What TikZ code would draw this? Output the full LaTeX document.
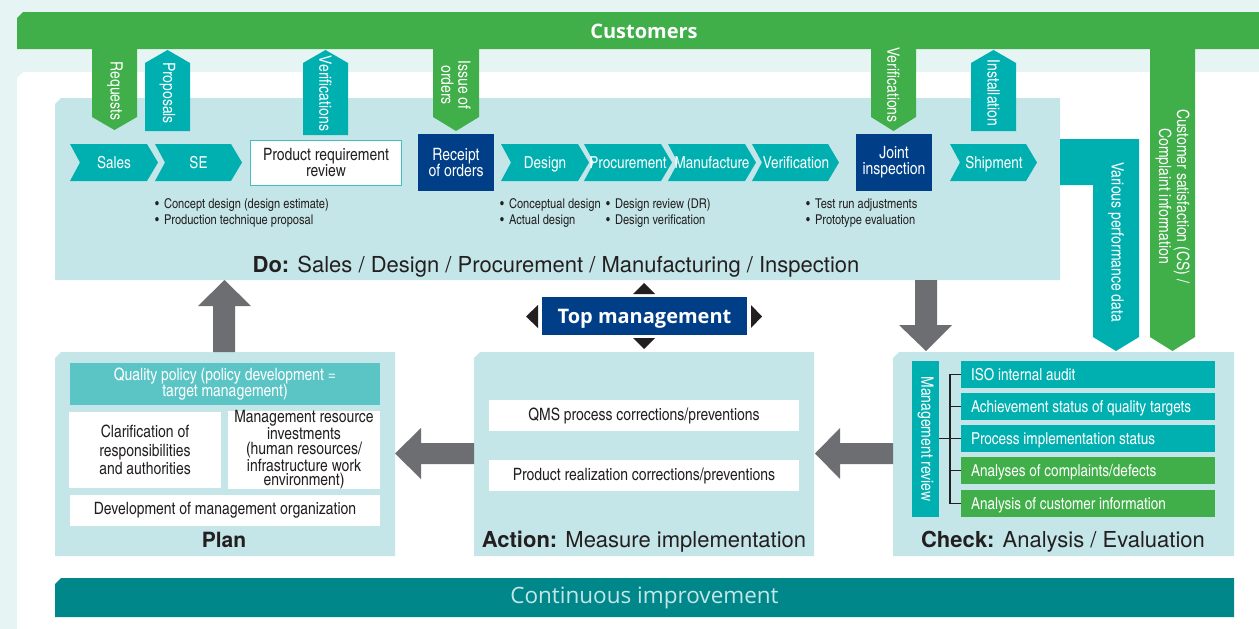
\documentclass[tikz,border=0pt]{standalone}
\usepackage{fontspec}
\setmainfont{TeX Gyre Heros}
\newfontfamily\cnd{TeX Gyre Heros Cn}
\newfontfamily\hum{Open Sans}
\definecolor{mint}{HTML}{E6F4F4}
\definecolor{panel}{HTML}{C5E6E8}
\definecolor{qteal}{HTML}{00B0B1}
\definecolor{grn}{HTML}{40AE49}
\definecolor{navy}{HTML}{003F87}
\definecolor{arrowgray}{HTML}{6D6E71}
\definecolor{deepteal}{HTML}{00878A}
\definecolor{softteal}{HTML}{5BC5C6}
\definecolor{ink}{HTML}{231F20}
\definecolor{prrline}{HTML}{3FBFC0}

% a chevron step: left x, width
\newcommand\chevron[2]{%
  \fill[qteal] (#1,144) -- (#1+#2-11,144) -- (#1+#2,162.5) -- (#1+#2-11,181)
    -- (#1,181) -- (#1+10,162.5) -- cycle;}
% downward flag arrow: x1, x2, top, shoulder, tip, colour
\newcommand\downflag[6]{%
  \fill[#6] (#1,#3) -- (#2,#3) -- (#2,#4) -- ({(#1+#2)/2},#5) -- (#1,#4) -- cycle;}
% upward flag arrow: x1, x2, bottom, shoulder, tip, colour
\newcommand\upflag[6]{%
  \fill[#6] (#1,#3) -- (#1,#4) -- ({(#1+#2)/2},#5) -- (#2,#4) -- (#2,#3) -- cycle;}
\newcommand\bul{\textbullet\hspace{5pt}}

\begin{document}
\begin{tikzpicture}[x=1pt,y=-1pt,
  lbl/.style={font=\cnd\fontsize{17}{17}\selectfont, text=white, rotate=-90, inner sep=0, align=center},
  chevtext/.style={font=\cnd\fontsize{16.5}{16.5}\selectfont, text=white, inner sep=0, anchor=base},
  bullet/.style={font=\cnd\fontsize{13.5}{13.5}\selectfont, text=ink, anchor=base west, inner sep=0},
  boxtext/.style={inner sep=0, align=center, text=ink, font=\cnd\fontsize{17}{18.5}\selectfont},
  navybox/.style={fill=navy, text=white, inner sep=0, align=center,
    minimum width=76pt, minimum height=57pt, font=\cnd\fontsize{17}{16}\selectfont},
  item/.style={inner sep=0, minimum width=254pt, minimum height=27pt},
  itemtext/.style={anchor=base west, inner sep=0, text=white, font=\cnd\fontsize{16.5}{16.5}\selectfont},
  title/.style={font=\fontsize{22}{22}\selectfont, text=ink, anchor=base, inner sep=0},
  brk/.style={draw=ink, line width=1.4pt},
  tri/.style={fill=ink}]
\useasboundingbox (0,0) rectangle (1259,629);

% background layers
\fill[mint] (0,0) rectangle (1259,629);
\fill[white] (17,78) -- (23,72) -- (1259,72) -- (1259,629) -- (17,629) -- cycle;
\fill[grn] (17,18) -- (23,12) -- (1259,12) -- (1259,49) -- (17,49) -- cycle;
\node[font=\hum\bfseries\fontsize{20}{20}\selectfont, text=white, inner sep=0] (cust) at (644,31) {Customers};

% the four panels
\fill[panel] (55,104) -- (61,98) -- (1060,98) -- (1060,280) -- (55,280) -- cycle;
\fill[panel] (55,358) -- (61,352) -- (395,352) -- (395,556) -- (55,556) -- cycle;
\fill[panel] (474,358) -- (480,352) -- (814,352) -- (814,556) -- (474,556) -- cycle;
\fill[panel] (893,358) -- (899,352) -- (1234,352) -- (1234,556) -- (893,556) -- cycle;

% continuous improvement bar
\fill[deepteal] (55,584) -- (61,578) -- (1234,578) -- (1234,617) -- (55,617) -- cycle;
\node[font=\hum\fontsize{22.5}{22.5}\selectfont, text=panel, inner sep=0] (ci) at (644.5,598) {Continuous improvement};

% flags between customers and the Do row
\downflag{92}{137}{48}{117}{130}{grn}
\node[lbl] (req) at (115,91) {Requests};
\upflag{145}{190}{131}{63}{50}{qteal}
\node[lbl] (prop) at (167.5,93) {Proposals};
\upflag{303}{348}{135}{63}{50}{qteal}
\node[lbl] (ver1) at (325.5,93.5) {Verifications};
\downflag{433}{479}{48}{117}{131}{grn}
\node[lbl] (iss) at (456,85) {Issue of\\orders};
\downflag{871}{916}{48}{117}{131}{grn}
\node[lbl] (ver2) at (893.5,85) {Verifications};
\upflag{971}{1016}{131}{63}{50}{qteal}
\node[lbl] (inst) at (993.5,93) {Installation};
\downflag{1150}{1195}{48}{337}{351}{grn}
\node[lbl, font=\cnd\fontsize{17}{18}\selectfont] (cs) at (1172.5,196) {Customer satisfaction (CS) /\\Complaint information};
\fill[qteal] (1060,139) -- (1139,139) -- (1139,337) -- (1116,351) -- (1093,337)
  -- (1093,185) -- (1060,185) -- cycle;
\node[lbl] (perf) at (1116,242) {Various performance data};

% process row
\chevron{70}{88}
\node[chevtext] (sales) at (114,168.5) {Sales};
\chevron{155}{87}
\node[chevtext] (se) at (198.5,168.5) {SE};
\node[boxtext, fill=white, draw=prrline, line width=1pt, minimum width=151pt,
  minimum height=45pt, font=\cnd\fontsize{17}{16}\selectfont] (prr) at (326,163)
  {Product requirement\\review};
\node[navybox] (rec) at (456,162.5) {Receipt\\of orders};
\chevron{501}{88}
\node[chevtext] (des) at (545,168.5) {Design};
\chevron{584}{88}
\node[chevtext] (proc) at (628,168.5) {Procurement};
\chevron{668}{88}
\node[chevtext] (manu) at (712,168.5) {Manufacture};
\chevron{752}{87}
\node[chevtext] (verif) at (796,168.5) {Verification};
\node[navybox] (joint) at (894,162.5) {Joint\\inspection};
\chevron{950}{87}
\node[chevtext] (ship) at (994,168.5) {Shipment};

% bullet notes under the row
\node[bullet] (n1) at (155,208.5) {\bul Concept design (design estimate)};
\node[bullet] (n2) at (155,224.5) {\bul Production technique proposal};
\node[bullet] (n3) at (500,208.5) {\bul Conceptual design};
\node[bullet] (n4) at (500,224.5) {\bul Actual design};
\node[bullet] (n5) at (606,208.5) {\bul Design review (DR)};
\node[bullet] (n6) at (606,224.5) {\bul Design verification};
\node[bullet] (n7) at (806,208.5) {\bul Test run adjustments};
\node[bullet] (n8) at (806,224.5) {\bul Prototype evaluation};

\node[title] (dot) at (556,272) {\textbf{Do:} Sales / Design / Procurement / Manufacturing / Inspection};

% top management with its four pointers
\node[fill=navy, inner sep=0, minimum width=205pt, minimum height=38pt] (top) at (644.5,316) {};
\node[text=white, inner sep=0, font=\hum\bfseries\fontsize{20}{20}\selectfont, anchor=base]
  (topt) at (644.5,323.5) {Top management};
\fill[tri] (633,294) -- (644,283) -- (655,294) -- cycle;
\fill[tri] (633,338) -- (655,338) -- (644,349) -- cycle;
\fill[tri] (538,305) -- (538,328) -- (526,316.5) -- cycle;
\fill[tri] (751,305) -- (751,328) -- (762,316.5) -- cycle;

% cycle arrows between panels
\fill[arrowgray] (213,352) -- (213,306) -- (198,306) -- (224.5,280) -- (251,306)
  -- (235,306) -- (235,352) -- cycle;
\fill[arrowgray] (915,280) -- (937,280) -- (937,325) -- (952,325) -- (926,351)
  -- (899,325) -- (915,325) -- cycle;
\fill[arrowgray] (474,443) -- (421,443) -- (421,428) -- (395,453.5) -- (421,479)
  -- (421,464) -- (474,464) -- cycle;
\fill[arrowgray] (893,443) -- (840,443) -- (840,428) -- (815,453.5) -- (840,479)
  -- (840,464) -- (893,464) -- cycle;

% Plan panel
\node[fill=softteal, minimum width=310pt, minimum height=42pt, inner sep=0, align=center,
  text=white, font=\cnd\fontsize{17}{16.7}\selectfont] (qp) at (225,384)
  {Quality policy (policy development =\\target management)};
\node[boxtext, fill=white, minimum width=152pt, minimum height=76pt] (clar) at (145,450)
  {Clarification of\\responsibilities\\and authorities};
\node[boxtext, fill=white, minimum width=152pt, minimum height=76pt,
  font=\cnd\fontsize{17}{14.7}\selectfont] (res) at (304,450)
  {Management resource\\investments\\(human resources/\\infrastructure work\\environment)};
\node[boxtext, fill=white, minimum width=310pt, minimum height=31pt] (dev) at (225,510.5)
  {Development of management organization};
\node[title, font=\bfseries\fontsize{21}{21}\selectfont] (plan) at (224,547) {Plan};

% Action panel
\node[boxtext, fill=white, minimum width=310pt, minimum height=31pt] (qms) at (644,415.5)
  {QMS process corrections/preventions};
\node[boxtext, fill=white, minimum width=310pt, minimum height=31pt] (prc) at (644,475.5)
  {Product realization corrections/preventions};
\node[title] (act) at (644,547) {\textbf{Action:} Measure implementation};

% Check panel
\node[fill=qteal, minimum width=27pt, minimum height=156pt, inner sep=0] (mr) at (925.5,439) {};
\node[lbl] (mrt) at (mr.center) {Management review};
\node[item, fill=qteal] (i1) at (1088,374.5) {};
\node[item, fill=qteal] (i2) at (1088,406.5) {};
\node[item, fill=qteal] (i3) at (1088,438.5) {};
\node[item, fill=grn] (i4) at (1088,470.5) {};
\node[item, fill=grn] (i5) at (1088,503.5) {};
\node[itemtext] (t1) at ([xshift=10pt,yshift=-6pt]i1.west) {ISO internal audit};
\node[itemtext] (t2) at ([xshift=10pt,yshift=-6pt]i2.west) {Achievement status of quality targets};
\node[itemtext] (t3) at ([xshift=10pt,yshift=-6pt]i3.west) {Process implementation status};
\node[itemtext] (t4) at ([xshift=10pt,yshift=-6pt]i4.west) {Analyses of complaints/defects};
\node[itemtext] (t5) at ([xshift=10pt,yshift=-6pt]i5.west) {Analysis of customer information};
\coordinate (bx) at (950,0);
\draw[brk] (i1.west) -- (i1.west -| bx) -- (i5.west -| bx) -- (i5.west);
\foreach \k in {2,3,4} \draw[brk] (i\k.west) -- (i\k.west -| bx);
\draw[brk] (mr.east |- i3.west) -- (i3.west -| bx);
\node[title] (chk) at (1063,547) {\textbf{Check:} Analysis / Evaluation};
\end{tikzpicture}
\end{document}
